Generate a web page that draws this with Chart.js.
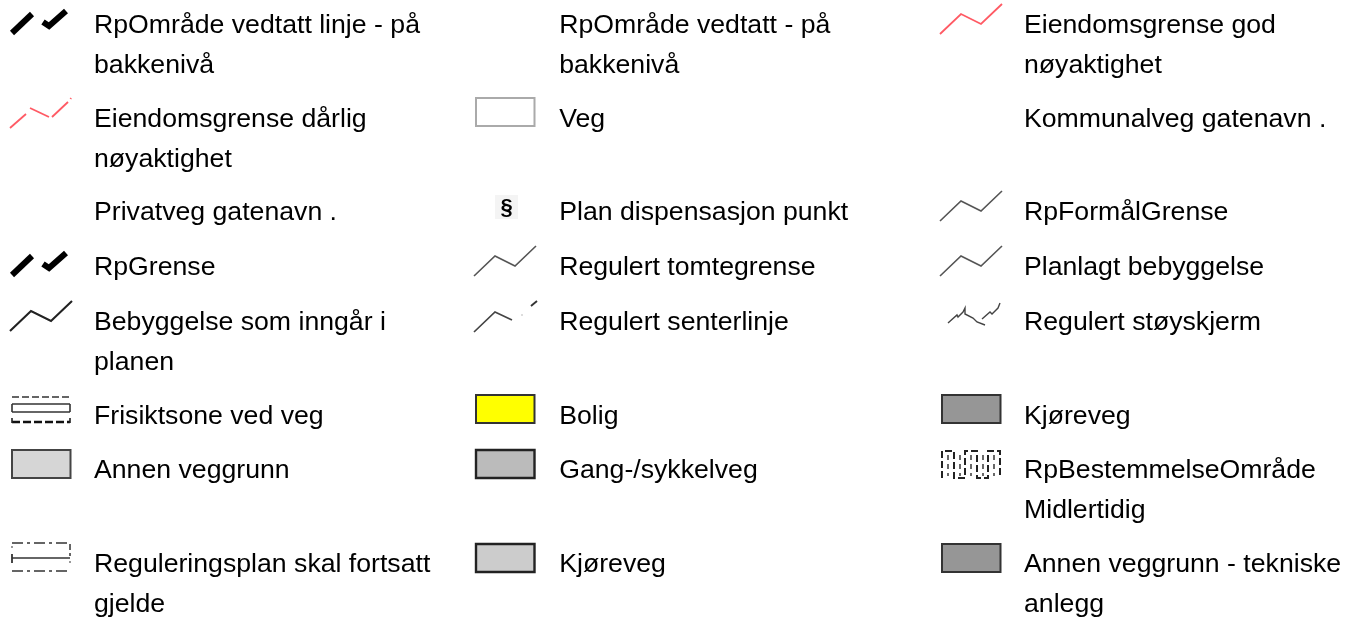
<!DOCTYPE html>
<html>
<head>
<meta charset="utf-8">
<style>
  html, body { margin: 0; padding: 0; background: #fff; }
  #wrap { width: 1355px; height: 621px; }
  /* reference is an upscaled image, slightly soft */
  #legend { filter: blur(0.35px); }
</style>
<script src="https://cdn.jsdelivr.net/npm/chart.js@4"></script>
</head>
<body>
<div id="wrap"><canvas id="legend"></canvas></div>
<script>
// legend text, one row per list, "\n" = line break
const row0 = ["RpOmråde vedtatt linje - på\nbakkenivå", "RpOmråde vedtatt - på\nbakkenivå", "Eiendomsgrense god\nnøyaktighet"];
const row1 = ["Eiendomsgrense dårlig\nnøyaktighet", "Veg", "Kommunalveg gatenavn ."];
const row2 = ["Privatveg gatenavn .", "Plan dispensasjon punkt", "RpFormålGrense"];
const row3 = ["RpGrense", "Regulert tomtegrense", "Planlagt bebyggelse"];
const row4 = ["Bebyggelse som inngår i\nplanen", "Regulert senterlinje", "Regulert støyskjerm"];
const row5 = ["Frisiktsone ved veg", "Bolig", "Kjøreveg"];
const row6 = ["Annen veggrunn", "Gang-/sykkelveg", "RpBestemmelseOmråde\nMidlertidig"];
const row7 = ["Reguleringsplan skal fortsatt\ngjelde", "Kjøreveg", "Annen veggrunn - tekniske\nanlegg"];

// which symbol goes with each label
const symbols0 = ["thick", null, "redLine"];
const symbols1 = ["redDash", "veg", null];
const symbols2 = [null, "dispensasjon", "greyLine"];
const symbols3 = ["thick", "greyLine", "greyLine"];
const symbols4 = ["blackLine", "senterlinje", "stoyskjerm"];
const symbols5 = ["frisikt", "bolig", "kjoreveg"];
const symbols6 = ["annen", "gang", "midlertidig"];
const symbols7 = ["regplan", "kjoreveg2", "tekniske"];

const rows = [row0, row1, row2, row3, row4, row5, row6, row7];
const symbolRows = [symbols0, symbols1, symbols2, symbols3, symbols4, symbols5, symbols6, symbols7];

// layout
const symbolX = [10, 474, 940];
const textX = [94, 559.2, 1024];
const symbolTop = [4, 98, 191, 246, 301, 395, 450, 544];
const baseline = [33, 127, 220, 275, 330, 424, 478, 572];
const lineGap = 40;

// symbol outlines, relative to the symbol's top left corner
const zig = [[0, 30], [21, 10], [41, 20], [62, 0]];
const box = [[2, 0], [60.5, 0], [60.5, 28], [2, 28], [2, 0]];
const line = (pts, color, width, dash) => ({ pts, color, width, dash });
const rect = (fill, color, width) => ({ pts: box, fill, color, width, cap: "square" });

const shapes = {
  thick: [
    line([[2, 29], [22, 10]], "#000", 6),
    line([[33, 18], [39, 22], [56, 7]], "#000", 6),
  ],
  redLine: [line(zig, "#ff5a64", 1.8)],
  redDash: [
    line([[0, 30], [16, 16]], "#ff5a64", 1.8),
    line([[20, 10], [39, 19]], "#ff5a64", 1.8),
    line([[42, 19], [58, 4]], "#ff5a64", 1.8),
    line([[60.5, 1], [61, 0]], "#ff5a64", 1.8),
  ],
  greyLine: [line(zig, "#555", 1.6)],
  blackLine: [line(zig, "#222", 2.1)],
  senterlinje: [
    line([[0, 31], [21, 11], [38, 19]], "#444", 1.7),
    line([[47.5, 14], [48.5, 14]], "#777", 1.2),
    line([[57, 5], [63, 0]], "#333", 1.9),
  ],
  stoyskjerm: [
    line([[8, 22], [17, 14], [18, 16], [23, 11], [25, 7], [25, 13], [33, 17], [37, 21], [45, 24]], "#444", 1.4),
    line([[42, 18], [50, 11], [52, 13], [58, 7], [60, 2]], "#444", 1.4),
  ],
  veg: [rect("#fff", "#aaa", 2)],
  dispensasjon: [{ pts: [[21, 4], [44, 4], [44, 28], [21, 28], [21, 4]], fill: "#f4f4f4", color: "#f4f4f4", width: 0, glyph: "§" }],
  frisikt: [
    line([[2, 2], [60, 2]], "#333", 1.6, [7, 3]),
    line([[2, 9], [60, 9]], "#333", 1.6),
    line([[2, 17], [60, 17]], "#333", 1.6),
    line([[2, 9], [2, 17]], "#333", 1.6),
    line([[60, 9], [60, 17]], "#333", 1.6),
    line([[2, 23], [2, 28]], "#222", 1.6),
    line([[60, 23], [60, 28]], "#222", 1.6),
    line([[2, 27], [60, 27]], "#111", 2.6, [8, 3]),
  ],
  bolig: [rect("#ffff00", "#333", 2)],
  kjoreveg: [rect("#969696", "#333", 2)],
  annen: [rect("#d6d6d6", "#444", 2)],
  gang: [rect("#bbbbbb", "#222", 2.4)],
  kjoreveg2: [rect("#cccccc", "#222", 2.4)],
  tekniske: [rect("#969696", "#333", 2)],
  midlertidig: [
    line([[2, 28], [2, 1], [14, 1], [14, 28], [25, 28], [25, 1], [37, 1], [37, 28], [48, 28], [48, 1], [60, 1], [60, 28]], "#222", 2, [7, 3]),
    line([[8, 5], [8, 26]], "#444", 1.6, [5, 4]),
    line([[20, 5], [20, 26]], "#444", 1.6, [5, 4]),
    line([[31, 5], [31, 26]], "#444", 1.6, [5, 4]),
    line([[43, 5], [43, 26]], "#444", 1.6, [5, 4]),
    line([[54, 5], [54, 26]], "#444", 1.6, [5, 4]),
  ],
  regplan: [
    line([[2, -1], [60, -1]], "#333", 1.5, [11, 4, 3, 4]),
    line([[2, 14], [60, 14]], "#333", 1.6),
    line([[2, 10], [2, 19]], "#333", 1.8),
    line([[2, 2], [2, 4]], "#555", 1.2),
    line([[60, 0], [60, 12]], "#333", 1.5, [6, 3]),
    line([[60, 17], [60, 19]], "#555", 1.2),
    line([[2, 27], [60, 27]], "#333", 1.5, [11, 4, 3, 4]),
  ],
};

// one line dataset per stroke of every symbol
const datasets = [];
const glyphs = [];
symbolRows.forEach((names, r) => {
  names.forEach((name, c) => {
    if (!name) return;
    shapes[name].forEach((part) => {
      datasets.push({
        data: part.pts.map(([dx, dy]) => ({ x: symbolX[c] + dx, y: symbolTop[r] + dy })),
        borderColor: part.color,
        borderWidth: part.width,
        borderDash: part.dash || [],
        backgroundColor: part.fill || "transparent",
        fill: part.fill ? "shape" : false,
        pointRadius: 0,
        tension: 0,
        borderCapStyle: part.cap || "butt",
      });
      if (part.glyph) glyphs.push({ text: part.glyph, c, r });
    });
  });
});

const textPlugin = {
  id: "legendText",
  afterDatasetsDraw(chart) {
    const { ctx, scales } = chart;
    ctx.save();
    ctx.textBaseline = "alphabetic";
    ctx.fillStyle = "#000";
    ctx.font = "26.67px 'Liberation Sans', Arial, sans-serif";
    rows.forEach((labels, r) => {
      labels.forEach((label, c) => {
        label.split("\n").forEach((txt, i) => {
          ctx.fillText(txt, scales.x.getPixelForValue(textX[c]), scales.y.getPixelForValue(baseline[r] + i * lineGap));
        });
      });
    });
    ctx.font = "bold 22px 'Liberation Sans', sans-serif";
    ctx.textAlign = "center";
    glyphs.forEach((g) => {
      ctx.fillText(g.text, scales.x.getPixelForValue(symbolX[g.c] + 32.5), scales.y.getPixelForValue(symbolTop[g.r] + 23));
    });
    ctx.restore();
  },
};

new Chart(document.getElementById("legend").getContext("2d"), {
  type: "line",
  data: { datasets },
  options: {
    responsive: true,
    maintainAspectRatio: false,
    animation: false,
    parsing: false,
    normalized: false,
    layout: { padding: 0 },
    plugins: { legend: { display: false }, tooltip: { enabled: false } },
    events: [],
    scales: {
      x: { type: "linear", min: 0, max: 1355, display: false },
      y: { type: "linear", min: 0, max: 621, reverse: true, display: false },
    },
  },
  plugins: [textPlugin],
});
</script>
</body>
</html>
